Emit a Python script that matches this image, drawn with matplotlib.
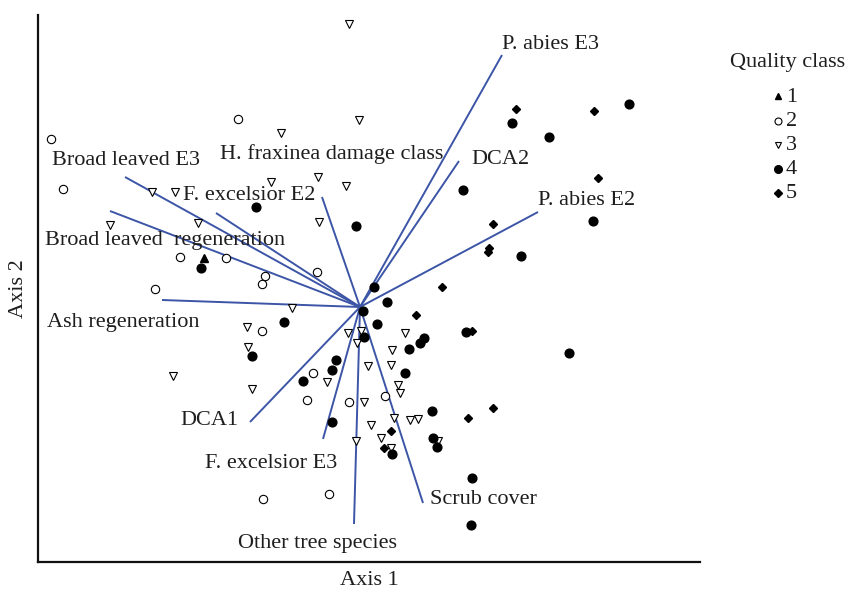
import matplotlib
matplotlib.use("Agg")
import matplotlib.pyplot as plt

# ---- data (ordination scores) ----
q1_x = [-156]
q1_y = [49]

q2_x = [-309, -122, -297, -180, -134, -43, -95, -98, -205, -98, -47, -53, -11, 25, -97, -31]
q2_y = [168, 188, 118, 50, 49, 35, 31, 23, 18, -24, -66, -93, -95, -89, -192, -187]

q3_x = [-11, -1, -79, -208, -185, -89, -42, -14, -250, -162, -41, -68, -113, -112, -187,
        -108, -33, -12, 1, -3, 45, 32, 8, 31, 38, 40, 4, 34, 50, 58, 11, 21, -4, 78, 31]
q3_y = [283, 187, 174, 115, 115, 125, 130, 121, 82, 84, 85, -1, -20, -40, -69,
        -82, -75, -26, -24, -36, -26, -43, -59, -58, -78, -86, -95, -111, -113, -112,
        -118, -131, -134, -134, -141]

q4_x = [152, 269, 189, 103, -104, -159, -4, 233, 161, 14, 27, 3, 17, -76, -108, 106, 4,
        64, 60, 49, 209, -24, -28, 45, -57, 72, -28, 73, 77, 32, 112, 111]
q4_y = [184, 203, 170, 117, 100, 39, 81, 86, 51, 20, 5, -4, -17, -15, -49, -25, -30,
        -31, -36, -42, -46, -53, -63, -66, -74, -104, -115, -131, -140, -147, -171, -218]

q5_x = [156, 234, 238, 133, 129, 128, 82, 56, 112, 108, 133, 31, 24]
q5_y = [198, 196, 129, 83, 59, 55, 20, -8, -24, -111, -101, -124, -141]

vec_names = ["P. abies E3", "DCA2", "P. abies E2", "H. fraxinea damage class",
             "F. excelsior E2", "Broad leaved E3", "Broad leaved  regeneration",
             "Ash regeneration", "DCA1", "F. excelsior E3", "Other tree species",
             "Scrub cover"]
vec_x = [142, 99, 178, -38, -144, -235, -250, -198, -110, -37, -6, 63]
vec_y = [252, 146, 95, 110, 94, 130, 96, 7, -115, -132, -217, -196]
lab_x = [142, 111, 178, -140, -177, -308, -315, -313, -180, -155, -122, 70]
lab_y = [258, 143, 102, 148, 107, 142, 62, -20, -118, -161, -241, -197]

legend_labels = ["1", "2", "3", "4", "5"]

# ---- figure ----
W, H = 848, 592
fig = plt.figure(figsize=(W / 100, H / 100), dpi=100)
ax = fig.add_axes([38 / W, 30 / H, 662 / W, 547 / H])
ax.set_xlim(-322, 340)
ax.set_ylim(-255, 292)

FONT = "Liberation Serif"
FS = 16
TXT = "#1e1e1e"
BLUE = "#3c55a6"

for s in ["top", "right"]:
    ax.spines[s].set_visible(False)
for s in ["left", "bottom"]:
    ax.spines[s].set_linewidth(1.6)
    ax.spines[s].set_color("#111111")
ax.set_xticks([])
ax.set_yticks([])

# vectors
for vx, vy in zip(vec_x, vec_y):
    ax.plot([0, vx], [0, vy], color=BLUE, lw=1.4, zorder=2, solid_capstyle="butt")
for name, lx, ly in zip(vec_names, lab_x, lab_y):
    ax.text(lx, ly, name, fontsize=FS, family=FONT, color=TXT,
            ha="left", va="baseline", zorder=4)

# points
ms = 6.0
ax.plot(q1_x, q1_y, ls="none", marker="^", ms=5.5, color="black", zorder=3)
ax.plot(q2_x, q2_y, ls="none", marker="o", ms=ms, mfc="white", mec="black", mew=0.8, zorder=3)
ax.plot(q3_x, q3_y, ls="none", marker="v", ms=ms, mfc="white", mec="black", mew=0.8, zorder=3)
ax.plot(q4_x, q4_y, ls="none", marker="o", ms=6.3, color="black", zorder=3)
ax.plot(q5_x, q5_y, ls="none", marker="D", ms=4.3, color="black", zorder=3)

ax.text(0.5, -0.033, "Axis 1", transform=ax.transAxes, fontsize=FS, family=FONT,
        color=TXT, ha="center", va="center")
ax.text(-0.03, 0.5, "Axis 2", transform=ax.transAxes, fontsize=FS, family=FONT,
        color=TXT, ha="center", va="center", rotation=90)

# legend (overlay in figure pixel coords)
lg = fig.add_axes([0, 0, 1, 1])
lg.set_xlim(0, W)
lg.set_ylim(H, 0)
lg.axis("off")
lg.patch.set_alpha(0)
lg.text(788, 63, "Quality class", fontsize=FS, family=FONT, color=TXT,
        ha="center", va="center")
styles = [dict(marker="^", ms=5, color="black"),
          dict(marker="o", ms=5, mfc="white", mec="black", mew=0.8),
          dict(marker="v", ms=5, mfc="white", mec="black", mew=0.8),
          dict(marker="o", ms=5.5, color="black"),
          dict(marker="D", ms=3.8, color="black")]
ys = [96, 121, 145, 169, 193]
for lab, st, yy in zip(legend_labels, styles, ys):
    lg.plot([778], [yy], ls="none", **st)
    lg.text(786, yy + 1, lab, fontsize=FS, family=FONT, color=TXT, ha="left", va="center")

fig.savefig("out.png", dpi=100)
